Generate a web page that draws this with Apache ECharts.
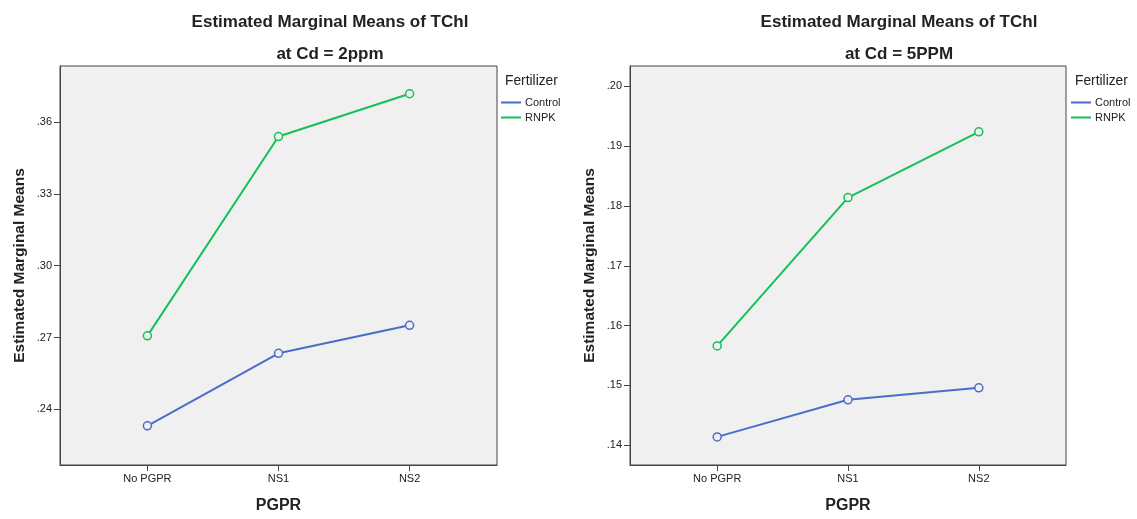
<!DOCTYPE html>
<html>
<head>
<meta charset="utf-8">
<script src="https://cdn.jsdelivr.net/npm/echarts@6/dist/echarts.min.js"></script>
<style>
  html, body { margin: 0; padding: 0; background: #fff; }
  #chart { width: 1137px; height: 519px; }
</style>
</head>
<body>
<div id="chart"></div>
<script>
// categories on the x axis
var categories = ['No PGPR', 'NS1', 'NS2']

// Cd = 2ppm
var control2 = [0.2331, 0.2634, 0.2751]
var rnpk2 = [0.2707, 0.3540, 0.3719]
var ticks2 = [0.24, 0.27, 0.30, 0.33, 0.36]

// Cd = 5PPM
var control5 = [0.1414, 0.1476, 0.1496]
var rnpk5 = [0.1566, 0.1814, 0.1924]
var ticks5 = [0.14, 0.15, 0.16, 0.17, 0.18, 0.19, 0.20]

var FONT = 'Liberation Sans, Arial, sans-serif'
var BLUE = '#4b6dc9'
var GREEN = '#14c158'
var BG = '#f0f0f0'
var INK = '#222'

function pts(arr) {
  return arr.map(function (v, i) { return [i, v] })
}

function fmtY(v) {
  return v.toFixed(2).replace(/^0/, '')
}

function makeX(gridIndex) {
  return {
    type: 'value',
    gridIndex: gridIndex,
    min: -2 / 3,
    max: 8 / 3,
    name: 'PGPR',
    nameLocation: 'middle',
    nameGap: 33,
    nameTextStyle: { fontFamily: FONT, fontSize: 16, fontWeight: 'bold', color: INK },
    splitLine: { show: false },
    axisLine: { show: true, onZero: false, lineStyle: { color: '#444', width: 1 } },
    axisTick: { show: true, length: 6, customValues: [0, 1, 2], lineStyle: { color: '#444' } },
    axisLabel: {
      customValues: [0, 1, 2],
      margin: 8,
      fontFamily: FONT,
      fontSize: 11,
      color: INK,
      formatter: function (v) { return categories[Math.round(v)] },
    },
  }
}

function makeY(gridIndex, min, max, ticks) {
  return {
    type: 'value',
    gridIndex: gridIndex,
    min: min,
    max: max,
    name: 'Estimated Marginal Means',
    nameLocation: 'middle',
    nameGap: 32,
    nameTextStyle: { fontFamily: FONT, fontSize: 15.5, fontWeight: 'bold', color: INK },
    splitLine: { show: false },
    axisLine: { show: true, onZero: false, lineStyle: { color: '#444', width: 1 } },
    axisTick: { show: true, length: 6, customValues: ticks, lineStyle: { color: '#444' } },
    axisLabel: {
      customValues: ticks,
      margin: 8,
      fontFamily: FONT,
      fontSize: 11,
      color: INK,
      formatter: fmtY,
    },
  }
}

function makeLine(name, data, color, idx) {
  return {
    name: name,
    type: 'line',
    xAxisIndex: idx,
    yAxisIndex: idx,
    data: pts(data),
    symbol: 'circle',
    symbolSize: 8,
    showAllSymbol: true,
    lineStyle: { color: color, width: 2 },
    itemStyle: { color: BG, borderColor: color, borderWidth: 1.5 },
    emphasis: { disabled: true },
    z: 3,
  }
}

function textTitle(text, left, top, size, bold, align) {
  return {
    text: text,
    left: left,
    top: top,
    textAlign: align || 'center',
    padding: 0,
    textStyle: { fontFamily: FONT, fontSize: size, fontWeight: bold ? 'bold' : 'normal', color: INK },
  }
}

function makeLegend(left) {
  return {
    orient: 'vertical',
    left: left,
    top: 97,
    padding: 0,
    itemWidth: 20,
    itemHeight: 2,
    itemGap: 4,
    icon: 'rect',
    selectedMode: false,
    textStyle: { fontFamily: FONT, fontSize: 11, color: INK, padding: [0, 0, 0, -1] },
    data: [
      { name: 'Control', itemStyle: { color: BLUE, borderWidth: 0 } },
      { name: 'RNPK', itemStyle: { color: GREEN, borderWidth: 0 } },
    ],
  }
}

var myChart = echarts.init(document.getElementById('chart'))

var option = {
  backgroundColor: '#fff',
  animation: false,
  title: [
    textTitle('Estimated Marginal Means of TChl', 330, 14, 17, true),
    textTitle('at Cd = 2ppm', 330, 46, 17, true),
    textTitle('Estimated Marginal Means of TChl', 899, 14, 17, true),
    textTitle('at Cd = 5PPM', 899, 46, 17, true),
    textTitle('Fertilizer', 505, 74, 13.8, false, 'left'),
    textTitle('Fertilizer', 1075, 74, 13.8, false, 'left'),
  ],
  legend: [makeLegend(501), makeLegend(1071)],
  grid: [
    { left: 60, top: 66, width: 437, height: 403, show: true, backgroundColor: BG, borderColor: '#444', borderWidth: 1 },
    { left: 630, top: 66, width: 436, height: 403, show: true, backgroundColor: BG, borderColor: '#444', borderWidth: 1 },
  ],
  xAxis: [makeX(0), makeX(1)],
  yAxis: [
    makeY(0, 0.2167, 0.3835, ticks2),
    makeY(1, 0.1367, 0.2034, ticks5),
  ],
  series: [
    makeLine('Control', control2, BLUE, 0),
    makeLine('RNPK', rnpk2, GREEN, 0),
    makeLine('Control', control5, BLUE, 1),
    makeLine('RNPK', rnpk5, GREEN, 1),
  ],
}

myChart.setOption(option)
</script>
</body>
</html>
